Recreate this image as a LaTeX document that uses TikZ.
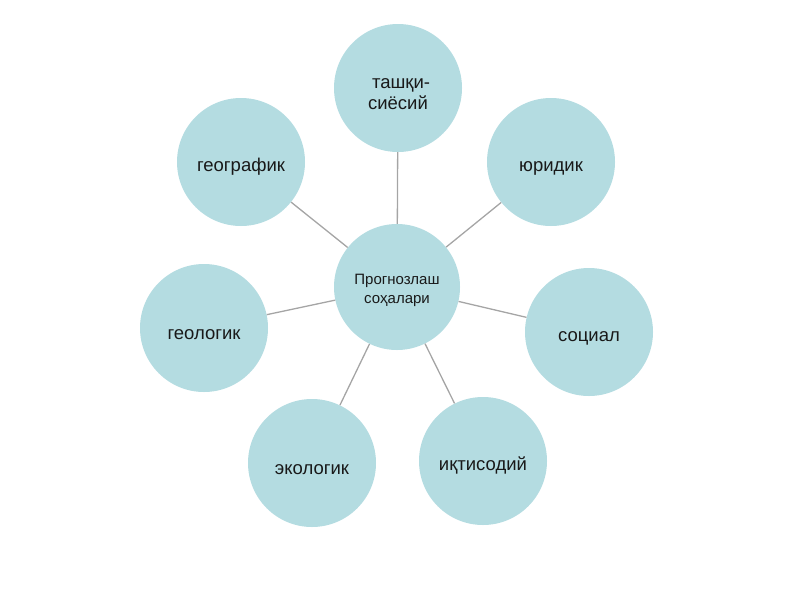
\documentclass[tikz,border=0pt]{standalone}
\usepackage{fontspec}
\setmainfont{Liberation Sans}
\definecolor{bub}{RGB}{180,220,225}
\definecolor{link}{RGB}{165,165,165}
\definecolor{txt}{RGB}{25,25,25}
\newcommand{\dn}[1]{\rule{0pt}{#1}}
\begin{document}
\begin{tikzpicture}[x=1pt,y=-1pt,
  bubble/.style={circle,fill=bub,minimum size=128pt,inner sep=0pt,align=center,text=txt,font=\fontsize{18.5}{21}\selectfont},
  hub/.style={bubble,minimum size=126pt,font=\fontsize{15}{19}\selectfont},
  spoke/.style={draw=link,line width=1.3pt}]
\useasboundingbox (0,0) rectangle (800,600);
\node[hub] (c) at (397,287) {\dn{17pt}Прогнозлаш\\соҳалари};
\node[bubble] (t) at (398,88) {\dn{22pt}\hspace*{6pt}ташқи-\\сиёсий};
\node[bubble] (j) at (551,162) {\dn{23pt}юридик};
\node[bubble] (s) at (589,332) {\dn{23pt}социал};
\node[bubble] (i) at (483,461) {\dn{23pt}иқтисодий};
\node[bubble] (e) at (312,463) {\dn{23pt}экологик};
\node[bubble] (gl) at (204,328) {\dn{23pt}геологик};
\node[bubble] (gr) at (241,162) {\dn{23pt}географик};
\foreach \n in {t,j,s,i,e,gl,gr} \draw[spoke] (c) -- (\n);
\end{tikzpicture}
\end{document}
